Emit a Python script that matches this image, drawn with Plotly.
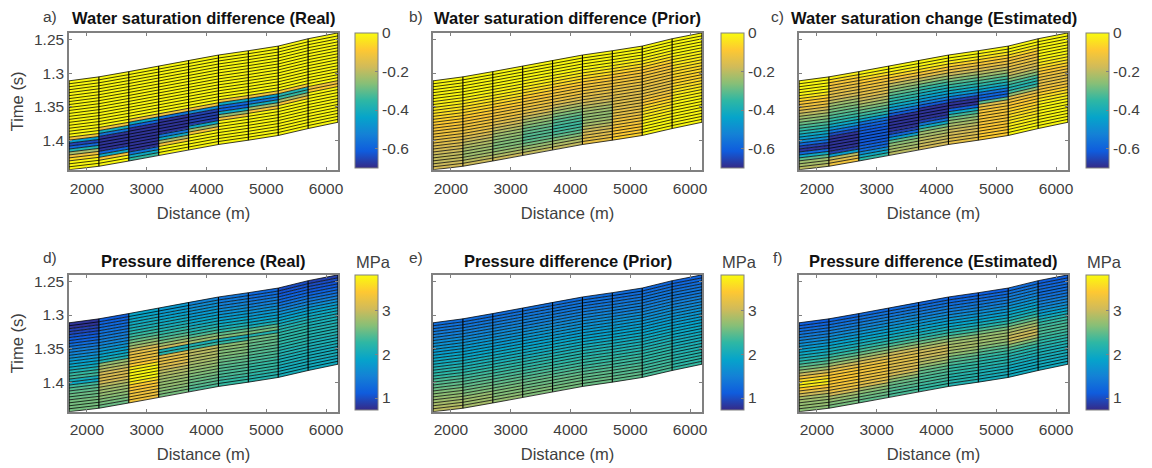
import plotly.graph_objects as go

W, H = 1152, 468
# column edges (distance, m) and horizon times (s)
dist_edges = [1700, 2200, 2700, 3200, 3700, 4200, 4700, 5200, 5700, 6200]
time_top = [1.3115, 1.3056, 1.2978, 1.2894, 1.2810, 1.2732, 1.2668, 1.2599, 1.2490, 1.2403]
time_bot = [1.4435, 1.4383, 1.4305, 1.4220, 1.4137, 1.4060, 1.3996, 1.3926, 1.3823, 1.3730]
x_ticks = [2000, 3000, 4000, 5000, 6000]
y_ticks = [1.25, 1.3, 1.35, 1.4]
y_labels = ["1.25", "1.3", "1.35", "1.4"]
sat_ticks = [0, -0.2, -0.4, -0.6]
sat_labels = ["0", "-0.2", "-0.4", "-0.6"]
pres_ticks = [1, 2, 3]
pres_labels = ["1", "2", "3"]

# one list per column, layers top to bottom
sat_real = [
    [0]*19 + [-.12, -.45, -.65, -.58, -.38, -.22, -.12, -.05, 0, 0, 0],
    [0]*17 + [-.12, -.4, -.55, -.68, -.68, -.68, -.68, -.68, -.6, -.42, -.1, 0, 0],
    [0]*16 + [-.12, -.42, -.6, -.68, -.68, -.68, -.68, -.68, -.68, -.68, -.68, -.55, -.42, -.35],
    [0]*16 + [-.12, -.55, -.68, -.68, -.68, -.68, -.68, -.55, -.42, -.22, -.1, 0, 0, 0],
    [0]*16 + [-.12, -.5, -.66, -.66, -.66, -.66, -.42, -.25, -.1, 0, 0, 0, 0, 0],
    [0]*15 + [-.12, -.42, -.58, -.6, -.42, -.25, -.12, 0, 0, 0, 0, 0, 0, 0, 0],
    [0]*15 + [-.12, -.45, -.55, -.4, -.22, -.1, 0, 0, 0, 0, 0, 0, 0, 0, 0],
    [0]*15 + [-.1, -.38, -.35, -.22, -.1, 0, 0, 0, 0, 0, 0, 0, 0, 0, 0],
    [0]*16 + [-.12, -.08, 0, 0, 0, 0, 0, 0, 0, 0, 0, 0, 0, 0],
]
sat_prior = [
    [0,0,0,0,0,-.005,-.01,-.015,-.02,-.03,-.04,-.05,-.06,-.07,-.08,-.09,-.1,-.11,-.12,-.13,-.14,-.15,-.16,-.17,-.18,-.19,-.19,-.19,-.18,-.17],
    [0,0,0,0,0,-.005,-.01,-.015,-.025,-.035,-.045,-.055,-.07,-.08,-.09,-.1,-.11,-.12,-.13,-.14,-.16,-.18,-.2,-.21,-.22,-.23,-.23,-.22,-.2,-.18],
    [0,0,0,0,-.005,-.01,-.015,-.02,-.03,-.04,-.055,-.07,-.085,-.1,-.11,-.12,-.13,-.15,-.17,-.19,-.21,-.23,-.25,-.26,-.27,-.27,-.26,-.24,-.21,-.18],
    [0,0,0,-.005,-.01,-.015,-.02,-.03,-.045,-.06,-.08,-.095,-.11,-.12,-.13,-.14,-.16,-.19,-.22,-.25,-.27,-.29,-.3,-.31,-.31,-.3,-.28,-.25,-.22,-.19],
    [0,0,0,-.005,-.01,-.02,-.03,-.045,-.06,-.08,-.095,-.11,-.12,-.13,-.15,-.18,-.21,-.24,-.27,-.29,-.31,-.32,-.33,-.33,-.32,-.3,-.27,-.24,-.21,-.19],
    [0,0,0,-.005,-.01,-.02,-.035,-.05,-.07,-.09,-.11,-.12,-.13,-.14,-.15,-.16,-.18,-.2,-.22,-.24,-.25,-.25,-.24,-.22,-.2,-.18,-.16,-.15,-.14,-.13],
    [0,0,0,-.005,-.015,-.03,-.05,-.07,-.09,-.1,-.11,-.12,-.13,-.14,-.14,-.15,-.15,-.15,-.15,-.15,-.14,-.14,-.13,-.12,-.11,-.1,-.09,-.09,-.08,-.07],
    [0,0,0,-.005,-.015,-.03,-.05,-.07,-.09,-.1,-.11,-.12,-.13,-.13,-.14,-.14,-.13,-.12,-.1,-.08,-.06,-.05,-.04,-.03,-.02,-.015,-.01,-.005,0,0],
    [0,0,0,0,-.005,-.01,-.015,-.02,-.03,-.04,-.05,-.06,-.06,-.07,-.07,-.06,-.05,-.04,-.03,-.02,-.015,-.01,-.005,0,0,0,0,0,0,0],
]
sat_est = [
    [0,0,0,0,-.01,-.03,-.06,-.09,-.11,-.13,-.17,-.2,-.23,-.26,-.29,-.32,-.35,-.38,-.42,-.45,-.5,-.58,-.66,-.68,-.58,-.42,-.3,-.24,-.22,-.2],
    [-.02,-.06,-.1,-.12,-.13,-.14,-.15,-.17,-.2,-.23,-.26,-.28,-.3,-.32,-.35,-.38,-.42,-.48,-.56,-.64,-.68,-.68,-.68,-.68,-.68,-.66,-.45,-.2,-.15,-.12],
    [0,-.02,-.05,-.08,-.1,-.12,-.13,-.14,-.15,-.18,-.2,-.24,-.27,-.3,-.33,-.37,-.45,-.56,-.6,-.61,-.62,-.62,-.62,-.62,-.62,-.6,-.58,-.5,-.42,-.36],
    [0,-.01,-.03,-.06,-.1,-.15,-.2,-.24,-.27,-.3,-.33,-.36,-.38,-.42,-.46,-.54,-.62,-.68,-.68,-.68,-.68,-.68,-.66,-.58,-.45,-.3,-.26,-.24,-.22,-.2],
    [0,-.01,-.02,-.05,-.1,-.14,-.2,-.25,-.3,-.34,-.38,-.41,-.44,-.48,-.54,-.62,-.68,-.68,-.68,-.68,-.66,-.55,-.42,-.3,-.24,-.22,-.2,-.19,-.18,-.17],
    [0,-.01,-.03,-.07,-.11,-.14,-.18,-.22,-.27,-.31,-.35,-.38,-.42,-.46,-.55,-.66,-.68,-.68,-.6,-.42,-.33,-.28,-.25,-.22,-.2,-.18,-.17,-.16,-.15,-.14],
    [0,-.02,-.04,-.07,-.1,-.13,-.16,-.2,-.24,-.28,-.32,-.36,-.4,-.45,-.56,-.6,-.58,-.3,-.15,-.11,-.1,-.1,-.1,-.1,-.1,-.09,-.09,-.09,-.08,-.08],
    [0,-.01,-.03,-.06,-.1,-.12,-.13,-.14,-.16,-.18,-.22,-.27,-.32,-.36,-.38,-.33,-.25,-.15,-.11,-.09,-.08,-.07,-.06,-.05,-.04,-.03,-.02,-.02,-.01,-.01],
    [0,0,0,0,-.005,-.01,-.01,-.02,-.03,-.05,-.07,-.09,-.11,-.13,-.14,-.13,-.12,-.1,-.07,-.05,-.03,-.02,-.01,-.005,0,0,0,0,0,0],
]
pres_real = [
    [.78,.82,.88,.95,1.05,1.12,1.2,1.3,1.38,1.48,1.55,1.62,1.7,1.8,1.9,2.0,2.15,2.3,2.35,2.05,1.95,2.35,2.45,2.5,2.55,2.55,2.6,2.6,2.6,2.6],
    [1.15,1.18,1.22,1.28,1.32,1.38,1.42,1.48,1.52,1.6,1.7,1.8,1.9,2.0,2.15,2.75,2.85,2.95,3.05,3.1,3.1,3.05,2.95,2.85,2.8,2.75,2.7,2.65,2.6,2.55],
    [1.9,1.92,1.95,2.0,2.05,2.1,2.2,2.3,2.4,2.55,2.7,2.85,3.05,3.2,3.25,3.25,3.3,3.45,3.7,3.8,3.82,3.82,3.78,3.65,3.45,3.4,3.35,3.3,3.3,3.3],
    [1.75,1.78,1.82,1.88,1.95,2.0,2.08,2.15,2.25,2.35,2.45,2.6,2.8,3.0,2.1,2.2,3.15,3.2,3.2,3.15,3.05,2.95,2.9,2.85,2.8,2.75,2.72,2.7,2.65,2.6],
    [1.55,1.6,1.65,1.7,1.75,1.82,1.9,1.98,2.05,2.15,2.25,2.4,2.65,2.8,2.1,2.3,2.95,2.95,2.9,2.9,2.85,2.8,2.75,2.7,2.65,2.6,2.55,2.5,2.45,2.4],
    [1.4,1.45,1.5,1.55,1.6,1.68,1.75,1.82,1.9,2.0,2.1,2.25,2.5,2.65,2.05,2.3,2.7,2.7,2.65,2.65,2.6,2.55,2.5,2.45,2.42,2.4,2.38,2.35,2.32,2.3],
    [1.25,1.3,1.35,1.42,1.5,1.58,1.65,1.72,1.8,1.88,1.98,2.1,2.45,2.6,2.15,2.55,2.55,2.5,2.48,2.45,2.42,2.4,2.38,2.35,2.32,2.3,2.28,2.25,2.22,2.2],
    [1.0,1.05,1.1,1.18,1.25,1.35,1.45,1.55,1.65,1.75,1.85,1.95,2.05,2.15,2.2,2.25,2.25,2.25,2.25,2.2,2.2,2.15,2.15,2.1,2.1,2.1,2.05,2.05,2.05,2.05],
    [.92,.98,1.05,1.1,1.18,1.28,1.38,1.5,1.62,1.75,1.85,1.95,2.0,2.05,2.1,2.12,2.14,2.15,2.15,2.15,2.12,2.1,2.1,2.08,2.05,2.05,2.05,2.03,2.02,2.0],
]
pres_prior = [
    [1.3,1.35,1.4,1.45,1.5,1.55,1.6,1.65,1.72,1.78,1.84,1.9,1.96,2.02,2.08,2.14,2.2,2.26,2.32,2.38,2.44,2.5,2.56,2.62,2.68,2.74,2.8,2.85,2.9,2.92],
    [1.3,1.35,1.4,1.44,1.49,1.54,1.59,1.64,1.7,1.76,1.82,1.87,1.93,1.98,2.04,2.1,2.16,2.22,2.28,2.34,2.4,2.45,2.5,2.55,2.6,2.66,2.72,2.76,2.8,2.84],
    [1.3,1.34,1.38,1.42,1.47,1.52,1.57,1.62,1.68,1.73,1.79,1.84,1.9,1.95,2.0,2.06,2.12,2.18,2.24,2.3,2.35,2.4,2.45,2.5,2.54,2.58,2.62,2.66,2.7,2.74],
    [1.3,1.34,1.37,1.41,1.46,1.5,1.55,1.6,1.65,1.7,1.76,1.81,1.86,1.92,1.97,2.02,2.08,2.14,2.2,2.25,2.3,2.35,2.4,2.44,2.48,2.52,2.56,2.6,2.62,2.65],
    [1.3,1.33,1.36,1.4,1.45,1.49,1.54,1.58,1.63,1.68,1.74,1.79,1.84,1.89,1.95,2.0,2.06,2.12,2.18,2.22,2.27,2.32,2.36,2.4,2.44,2.48,2.52,2.55,2.58,2.6],
    [1.28,1.32,1.35,1.39,1.43,1.47,1.52,1.56,1.61,1.66,1.72,1.77,1.82,1.87,1.93,1.98,2.04,2.1,2.15,2.2,2.24,2.28,2.32,2.36,2.4,2.44,2.47,2.5,2.53,2.55],
    [1.27,1.3,1.34,1.38,1.42,1.46,1.5,1.55,1.6,1.65,1.7,1.75,1.8,1.85,1.9,1.96,2.02,2.07,2.12,2.17,2.21,2.25,2.29,2.33,2.36,2.4,2.43,2.46,2.48,2.5],
    [1.25,1.28,1.32,1.36,1.4,1.44,1.48,1.52,1.57,1.62,1.67,1.72,1.77,1.82,1.87,1.93,1.98,2.03,2.08,2.12,2.16,2.2,2.23,2.26,2.29,2.32,2.34,2.36,2.38,2.4],
    [1.2,1.24,1.28,1.32,1.36,1.4,1.44,1.48,1.52,1.57,1.62,1.66,1.71,1.76,1.81,1.85,1.9,1.94,1.98,2.02,2.05,2.08,2.11,2.14,2.16,2.19,2.21,2.24,2.26,2.28],
]
pres_est = [
    [1.15,1.2,1.28,1.35,1.42,1.5,1.58,1.65,1.75,1.85,1.95,2.05,2.15,2.3,2.45,2.6,2.8,3.0,3.3,3.55,3.75,3.7,3.45,3.2,3.0,2.85,2.8,2.75,2.75,2.7],
    [1.2,1.28,1.35,1.42,1.5,1.58,1.66,1.75,1.85,1.95,2.05,2.15,2.3,2.45,2.6,2.8,3.0,3.2,3.35,3.4,3.4,3.4,3.35,3.3,3.25,3.05,2.85,2.75,2.65,2.6],
    [1.25,1.32,1.4,1.48,1.55,1.62,1.72,1.82,1.92,2.02,2.12,2.25,2.4,2.55,2.75,2.95,3.1,3.25,3.3,3.3,3.3,3.28,3.25,3.2,3.1,2.85,2.7,2.6,2.55,2.5],
    [1.25,1.32,1.4,1.48,1.56,1.64,1.72,1.82,1.92,2.02,2.12,2.25,2.4,2.6,2.8,3.0,3.1,3.15,3.15,3.15,3.12,3.1,3.05,2.9,2.7,2.55,2.5,2.45,2.4,2.38],
    [1.2,1.28,1.35,1.42,1.5,1.58,1.66,1.75,1.85,1.95,2.05,2.2,2.35,2.55,2.75,2.9,3.0,3.0,3.0,2.95,2.9,2.75,2.6,2.5,2.45,2.4,2.38,2.35,2.32,2.3],
    [1.15,1.22,1.3,1.38,1.45,1.52,1.6,1.7,1.8,1.9,2.0,2.15,2.3,2.5,2.7,2.8,2.85,2.85,2.8,2.7,2.55,2.45,2.38,2.32,2.28,2.25,2.22,2.2,2.18,2.15],
    [1.15,1.22,1.3,1.38,1.45,1.52,1.6,1.7,1.8,1.92,2.05,2.2,2.4,2.6,2.75,2.8,2.8,2.75,2.65,2.5,2.4,2.32,2.27,2.22,2.18,2.15,2.12,2.1,2.08,2.05],
    [1.3,1.35,1.42,1.5,1.55,1.62,1.7,1.8,1.9,2.0,2.12,2.3,2.5,2.7,2.85,2.95,3.0,3.0,2.9,2.65,2.45,2.3,2.2,2.15,2.1,2.05,2.02,2.0,2.0,2.0],
    [1.15,1.2,1.25,1.28,1.3,1.35,1.4,1.48,1.55,1.62,1.72,1.85,2.0,2.15,2.28,2.35,2.38,2.38,2.35,2.3,2.25,2.2,2.15,2.12,2.1,2.08,2.05,2.03,2.0,2.0],
]

panel_values = [sat_real, sat_prior, sat_est, pres_real, pres_prior, pres_est]
panel_titles = ["Water saturation difference (Real)", "Water saturation difference (Prior)",
                "Water saturation change (Estimated)", "Pressure difference (Real)",
                "Pressure difference (Prior)", "Pressure difference (Estimated)"]
panel_tags = ["a)", "b)", "c)", "d)", "e)", "f)"]

PARULA = ["#352a87", "#0f5cdd", "#1481d6", "#06a4ca", "#2eb7a4", "#87bf77", "#d1bb59", "#fec832", "#f9fb0e"]
colorscale = [[i / 8, c] for i, c in enumerate(PARULA)]

def parula(t):
    t = max(0.0, min(1.0, t)) * 8
    i = min(int(t), 7)
    f = t - i
    a = PARULA[i]; b = PARULA[i + 1]
    rgb = [round(int(a[k:k+2], 16) * (1 - f) + int(b[k:k+2], 16) * f) for k in (1, 3, 5)]
    return "rgb(%d,%d,%d)" % tuple(rgb)

AX_L = [69, 433, 799]
AX_W = 269
CB_L = [355, 721, 1086]
CB_W = 23
ROW_T = [31, 274]
ROW_B = [168.5, 411.5]
TAG_X = [50, 416, 777]
TEXT = "#404040"
FONT = "Liberation Sans"
T_RANGE = [1.4435, 1.2403]
N_LAYERS = 30
N_BINS = 64

def depth(e, j):
    return time_top[e] + (time_bot[e] - time_top[e]) * j / N_LAYERS

fig = go.Figure()
annotations = []
layout_axes = {}

for p in range(6):
    row, col = p // 3, p % 3
    values = panel_values[p]
    cmin, cmax = (-0.7, 0.0) if row == 0 else (0.73, 3.82)
    xname = "x" if p == 0 else "x%d" % (p + 1)
    yname = "y" if p == 0 else "y%d" % (p + 1)

    # filled cells grouped by colour level
    bins = {}
    for c in range(9):
        for k in range(N_LAYERS):
            t = (values[c][k] - cmin) / (cmax - cmin)
            b = min(N_BINS - 1, max(0, int(t * N_BINS)))
            xs, ys = bins.setdefault(b, ([], []))
            xs += [dist_edges[c], dist_edges[c + 1], dist_edges[c + 1], dist_edges[c], dist_edges[c], None]
            ys += [depth(c, k), depth(c + 1, k), depth(c + 1, k + 1), depth(c, k + 1), depth(c, k), None]
    for b, (xs, ys) in sorted(bins.items()):
        col_s = parula((b + 0.5) / N_BINS)
        fig.add_trace(go.Scatter(x=xs, y=ys, mode="lines", fill="toself", fillcolor=col_s,
                                 line=dict(width=0, color=col_s), hoverinfo="skip",
                                 showlegend=False, xaxis=xname, yaxis=yname))
    # layer and column lines
    lx, ly = [], []
    for j in range(N_LAYERS + 1):
        for e in range(10):
            lx.append(dist_edges[e])
            ly.append(depth(e, j))
        lx.append(None); ly.append(None)
    fig.add_trace(go.Scatter(x=lx, y=ly, mode="lines", line=dict(color="rgba(0,0,0,0.85)", width=0.9),
                             hoverinfo="skip", showlegend=False, xaxis=xname, yaxis=yname))
    vx, vy = [], []
    for e in range(10):
        vx += [dist_edges[e], dist_edges[e], None]
        vy += [time_top[e], time_bot[e], None]
    fig.add_trace(go.Scatter(x=vx, y=vy, mode="lines", line=dict(color="#000000", width=1.1),
                             hoverinfo="skip", showlegend=False, xaxis=xname, yaxis=yname))
    # colour bar
    ticks, labels = (sat_ticks, sat_labels) if row == 0 else (pres_ticks, pres_labels)
    fig.add_trace(go.Scatter(
        x=[None], y=[None], mode="markers", hoverinfo="skip", showlegend=False,
        xaxis=xname, yaxis=yname,
        marker=dict(color=[cmin, cmax], cmin=cmin, cmax=cmax, colorscale=colorscale, size=0.1, showscale=True,
                    colorbar=dict(x=CB_L[col] / W, xanchor="left", xpad=0, ypad=0,
                                  y=1 - ROW_T[row] / H, yanchor="top",
                                  len=ROW_B[row] - ROW_T[row] - 2.5, lenmode="pixels",
                                  thickness=CB_W, thicknessmode="pixels",
                                  outlinecolor="#808080", outlinewidth=1, borderwidth=0,
                                  tickmode="array", tickvals=ticks, ticktext=labels,
                                  ticks="inside", ticklen=3, tickcolor="#808080",
                                  tickfont=dict(family=FONT, size=15.5, color=TEXT)))))
    axis_x = dict(domain=[AX_L[col] / W, (AX_L[col] + AX_W) / W], range=[1700, 6200], anchor=yname,
                  tickmode="array", tickvals=x_ticks, ticks="inside", ticklen=3, tickcolor="#808080",
                  showline=True, linecolor="#808080", linewidth=1.5, mirror="ticks", showgrid=False, zeroline=False,
                  ticklabelstandoff=[4, 3][row],
                  tickfont=dict(family=FONT, size=15.5, color=TEXT),
                  title=dict(text="Distance (m)", font=dict(family=FONT, size=16.5, color=TEXT), standoff=11))
    axis_y = dict(domain=[1 - ROW_B[row] / H, 1 - ROW_T[row] / H], range=T_RANGE, anchor=xname,
                  tickmode="array", tickvals=y_ticks, ticktext=y_labels, ticks="inside", ticklen=3, tickcolor="#808080",
                  showline=True, linecolor="#808080", linewidth=1.5, mirror="ticks", showgrid=False, zeroline=False,
                  showticklabels=(col == 0),
                  tickfont=dict(family=FONT, size=15.5, color=TEXT))
    if col == 0:
        axis_y["title"] = dict(text="Time (s)", font=dict(family=FONT, size=16.5, color=TEXT), standoff=6)
    layout_axes["xaxis" if p == 0 else "xaxis%d" % (p + 1)] = axis_x
    layout_axes["yaxis" if p == 0 else "yaxis%d" % (p + 1)] = axis_y

    title_y = [16, 260][row]
    annotations.append(dict(text="<b>%s</b>" % panel_titles[p], x=(AX_L[col] + AX_W / 2) / W, y=1 - title_y / H,
                            xref="paper", yref="paper", xanchor="center", yanchor="middle", showarrow=False,
                            font=dict(family=FONT, size=16.5, color="#111111")))
    annotations.append(dict(text=panel_tags[p], x=TAG_X[col] / W, y=1 - ([15, 257][row]) / H,
                            xref="paper", yref="paper", xanchor="center", yanchor="middle", showarrow=False,
                            font=dict(family=FONT, size=15.5, color=TEXT)))
    if row == 1:
        annotations.append(dict(text="MPa", x=(CB_L[col] + 18) / W, y=1 - 261 / H,
                                xref="paper", yref="paper", xanchor="center", yanchor="middle", showarrow=False,
                                font=dict(family=FONT, size=16.5, color=TEXT)))

# the canvas is a little wider than the window so the last colour bar's labels do not push the plot area
fig.update_layout(width=W + 8, height=H, margin=dict(l=0, r=8, t=0, b=0), paper_bgcolor="white",
                  plot_bgcolor="white", showlegend=False, annotations=annotations, **layout_axes)
fig.write_html("out.html", config={"displayModeBar": False},
               post_script="document.body.style.margin='0';document.body.style.overflow='hidden';document.documentElement.style.overflow='hidden';")
